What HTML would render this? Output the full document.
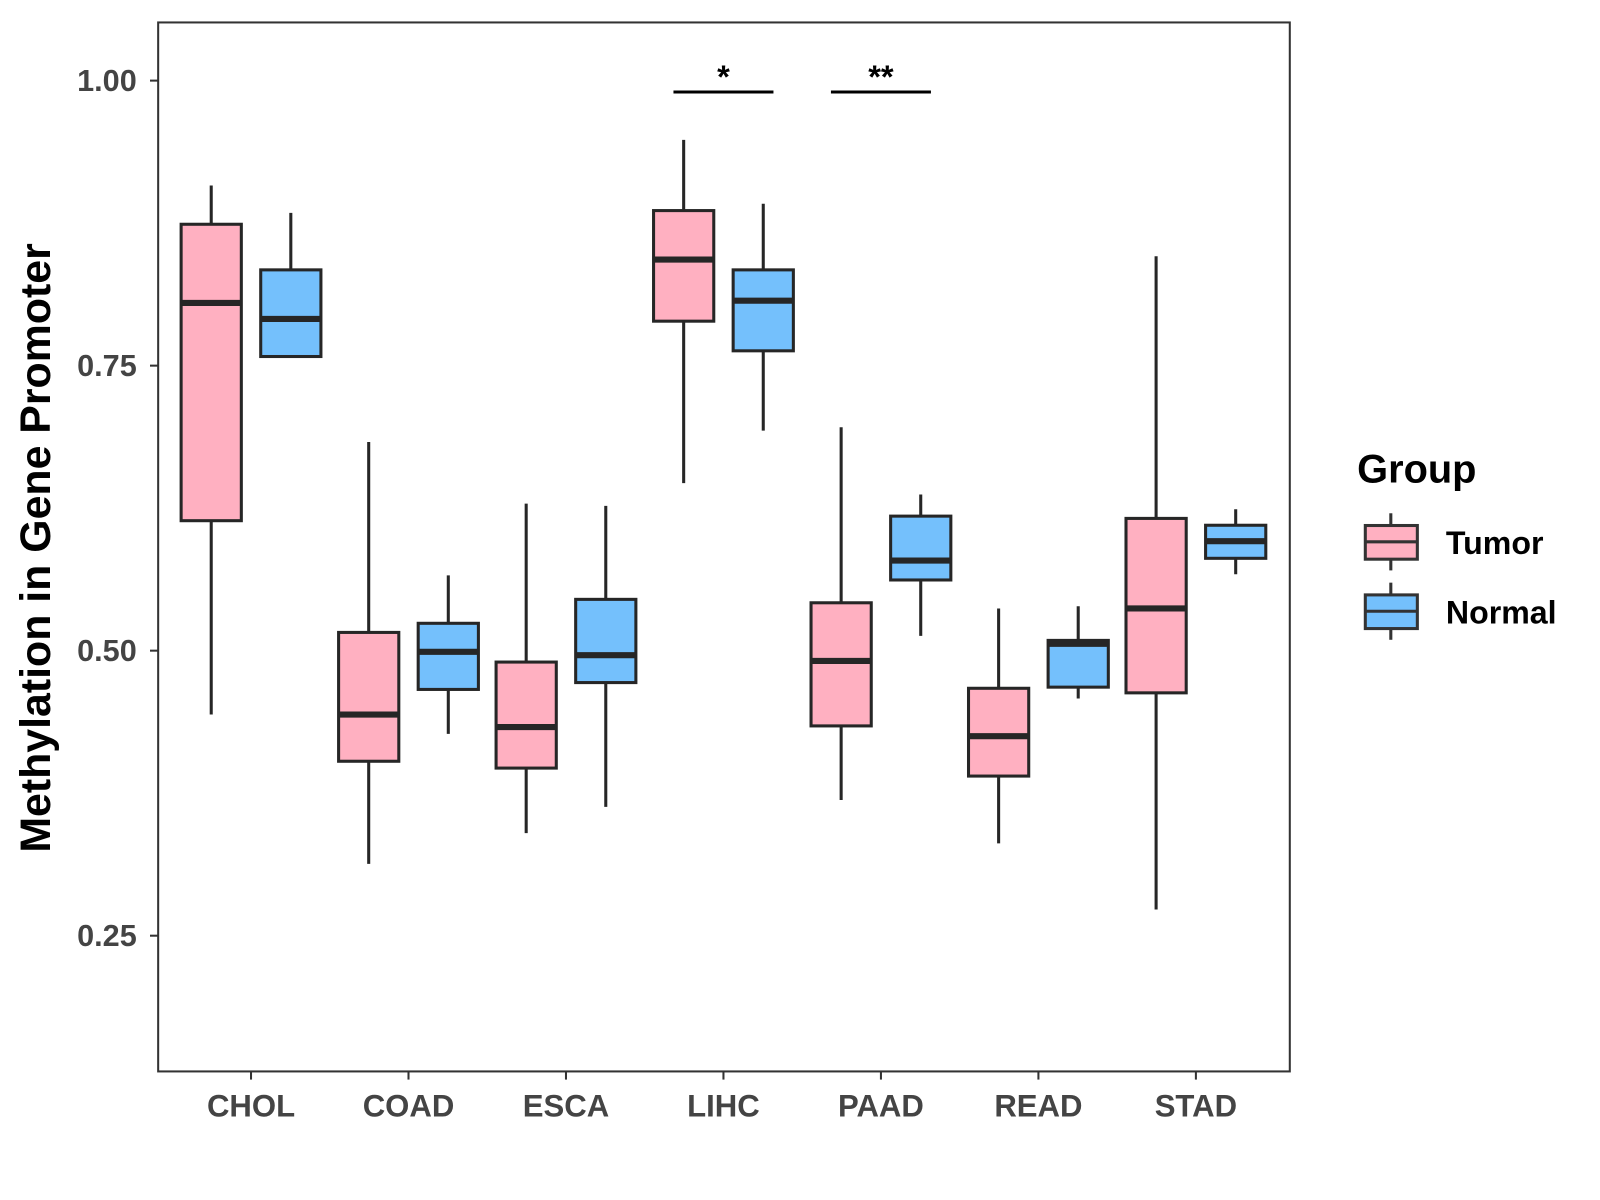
<!DOCTYPE html>
<html><head><meta charset="utf-8"><style>html,body{margin:0;padding:0;background:#fff}svg{display:block}text{font-family:"Liberation Sans",Arial,sans-serif;font-weight:bold}</style></head>
<body>
<svg id="chart" width="1600" height="1200" viewBox="0 0 1568 1176" xmlns="http://www.w3.org/2000/svg">
<rect x="0" y="0" width="1568" height="1176" fill="#fff"/>
<rect x="155" y="22" width="1109" height="1028" fill="none" stroke="#333" stroke-width="2"/>
<g id="marks"></g>
<g id="axes"></g>
<text x="38" y="537" font-size="42" fill="#000" text-anchor="middle" transform="rotate(-90 38 537)" dominant-baseline="middle">Methylation in Gene Promoter</text>
<text x="1330" y="473" font-size="39" fill="#000">Group</text>
<g>
<line x1="1363" y1="503" x2="1363" y2="559" stroke="#333" stroke-width="3"/>
<rect x="1338" y="515" width="51" height="33" fill="#FFB0C1" stroke="#333" stroke-width="3"/>
<line x1="1338" y1="531" x2="1389" y2="531" stroke="#333" stroke-width="3"/>
<text x="1417" y="543" font-size="31.5" fill="#000">Tumor</text>
</g>
<g>
<line x1="1363" y1="571" x2="1363" y2="627" stroke="#333" stroke-width="3"/>
<rect x="1338" y="583" width="51" height="33" fill="#74C0FC" stroke="#333" stroke-width="3"/>
<line x1="1338" y1="599" x2="1389" y2="599" stroke="#333" stroke-width="3"/>
<text x="1417" y="611" font-size="31.5" fill="#000">Normal</text>
</g>
</svg>
<script>
const categories = ["CHOL","COAD","ESCA","LIHC","PAAD","READ","STAD"];
// [whiskerHigh, q3, median, q1, whiskerLow]
const tumorStats = [
 [0.908,0.874,0.805,0.614,0.444],
 [0.683,0.516,0.444,0.403,0.313],
 [0.629,0.490,0.433,0.397,0.340],
 [0.948,0.886,0.843,0.789,0.647],
 [0.696,0.542,0.491,0.434,0.369],
 [0.537,0.467,0.425,0.390,0.331],
 [0.846,0.616,0.537,0.463,0.273]];
const normalStats = [
 [0.884,0.834,0.791,0.758,0.758],
 [0.566,0.524,0.499,0.466,0.427],
 [0.627,0.545,0.496,0.472,0.363],
 [0.892,0.834,0.807,0.763,0.693],
 [0.637,0.618,0.579,0.562,0.513],
 [0.539,0.509,0.506,0.468,0.458],
 [0.624,0.610,0.596,0.581,0.567]];
const yTicks = [0.25,0.50,0.75,1.00];
const yTickLabels = ["0.25","0.50","0.75","1.00"];
const sigCategories = ["LIHC","PAAD"];
const sigLabels = ["*","**"];
const sigLevel = 0.99;

const NS="http://www.w3.org/2000/svg";
function y(v){return 79+(1-v)*1117.3;}
function x(i){return 246+i*154.33;}
function mk(tag,attrs,parent){const e=document.createElementNS(NS,tag);for(const k in attrs)e.setAttribute(k,attrs[k]);parent.appendChild(e);return e;}
const marks=document.getElementById('marks'), axes=document.getElementById('axes');
function box(cx,s,fill,name){
 const g=mk('g',{},marks);
 
 
 mk('line',{x1:cx,x2:cx,y1:y(s[0]),y2:y(s[4]),stroke:'#262626','stroke-width':3},g);
 mk('rect',{x:cx-29.5,width:59,y:y(s[1]),height:y(s[3])-y(s[1]),fill:fill,stroke:'#262626','stroke-width':3},g);
 mk('line',{x1:cx-29.5,x2:cx+29.5,y1:y(s[2]),y2:y(s[2]),stroke:'#262626','stroke-width':6},g);
}
categories.forEach((c,i)=>{
 box(x(i)-39,tumorStats[i],'#FFB0C1','box-tumor-'+c.toLowerCase());
 box(x(i)+39,normalStats[i],'#74C0FC','box-normal-'+c.toLowerCase());
 const t=mk('line',{x1:x(i),x2:x(i),y1:1050,y2:1058,stroke:'#333','stroke-width':2},axes);
 
 
 const l=mk('text',{x:x(i),y:1094,'font-size':30.5,fill:'#444','text-anchor':'middle'},axes);
 l.textContent=c;
 
 
});
yTicks.forEach((v,i)=>{
 const t=mk('line',{x1:147,x2:155,y1:y(v),y2:y(v),stroke:'#333','stroke-width':2},axes);
 
 
 const l=mk('text',{x:134,y:y(v)+10,'font-size':30,fill:'#444','text-anchor':'end'},axes);
 l.textContent=yTickLabels[i];
 
 
});
sigCategories.forEach((c,j)=>{
 const i=categories.indexOf(c);
 const ln=mk('line',{x1:x(i)-49,x2:x(i)+49,y1:y(sigLevel),y2:y(sigLevel),stroke:'#000','stroke-width':3},marks);
 
 
 const t=mk('text',{x:x(i),y:y(sigLevel)-4,'font-size':32,fill:'#000','text-anchor':'middle'},marks);
 t.textContent=sigLabels[j];
 
 
});
</script>
</body></html>
